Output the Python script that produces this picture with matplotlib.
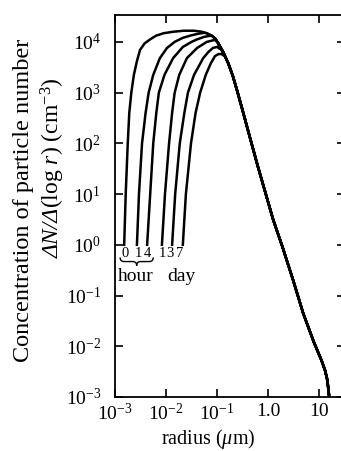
import numpy as np
import matplotlib
matplotlib.use("Agg")
import matplotlib.pyplot as plt
from matplotlib.path import Path
from matplotlib.patches import PathPatch
from matplotlib.ticker import NullLocator

plt.rcParams['font.family'] = ['Liberation Serif', 'DejaVu Serif']
plt.rcParams['mathtext.fontset'] = 'custom'
plt.rcParams['mathtext.rm'] = 'Liberation Serif'
plt.rcParams['mathtext.it'] = 'Liberation Serif:italic'
plt.rcParams['mathtext.bf'] = 'Liberation Serif:bold'

# values, as log10(radius um) and log10(dN/dlog r)
# common large-particle tail, shared by all curves
tail_logr = [-0.98, -0.88, -0.78, -0.69, -0.60, -0.49, -0.35, -0.20, -0.10,
             0.10, 0.29, 0.50, 0.69, 0.90, 1.05, 1.12, 1.16, 1.185, 1.20, 1.21]
tail_logn = [3.98, 3.80, 3.58, 3.33, 3.02, 2.62, 2.10, 1.55, 1.20,
             0.50, -0.06, -0.72, -1.35, -1.92, -2.28, -2.48, -2.65, -2.85, -3.0, -3.2]

# rising part of each curve (0 h, 1 h, 4 h, 1 d, 3 d, 7 d)
rise_logr = [
    [-2.82, -2.79, -2.75, -2.72, -2.68, -2.63, -2.57, -2.51, -2.42, -2.31,
     -2.20, -2.05, -1.86, -1.65, -1.45, -1.30, -1.20, -1.10, -1.03],
    [-2.57, -2.53, -2.47, -2.40, -2.34, -2.25, -2.12, -1.98, -1.83, -1.67,
     -1.50, -1.37, -1.24, -1.20, -1.10, -1.03],
    [-2.37, -2.31, -2.25, -2.19, -2.14, -2.03, -1.86, -1.67, -1.50, -1.39,
     -1.25, -1.14, -1.10, -1.03],
    [-2.08, -2.02, -1.94, -1.88, -1.83, -1.74, -1.59, -1.39, -1.20, -1.04],
    [-1.88, -1.82, -1.73, -1.64, -1.57, -1.45, -1.27, -1.17, -1.08, -1.00,
     -0.94],
    [-1.67, -1.61, -1.51, -1.42, -1.33, -1.22, -1.12, -1.04, -0.97, -0.91,
     -0.85],
]
rise_logn = [
    [0.0, 1.0, 2.0, 2.6, 3.0, 3.35, 3.62, 3.84, 3.97, 4.05,
     4.12, 4.17, 4.20, 4.22, 4.22, 4.20, 4.17, 4.12, 4.06],
    [0.0, 1.0, 2.0, 2.6, 3.0, 3.35, 3.68, 3.88, 4.00, 4.08,
     4.13, 4.16, 4.18, 4.17, 4.12, 4.06],
    [0.0, 1.0, 2.0, 2.6, 3.0, 3.35, 3.68, 3.90, 4.00, 4.05,
     4.10, 4.12, 4.12, 4.06],
    [0.0, 1.0, 2.0, 2.6, 3.0, 3.35, 3.68, 3.88, 4.00, 4.04],
    [0.0, 1.0, 2.0, 2.6, 3.0, 3.35, 3.68, 3.80, 3.88, 3.90,
     3.86],
    [0.0, 1.0, 2.0, 2.6, 3.0, 3.35, 3.58, 3.72, 3.76, 3.76,
     3.72],
]
curve_labels = ['0', '1', '4', '1', '3', '7']
label_logr = [-2.80, -2.55, -2.37, -2.08, -1.92, -1.73]

xticks = [1e-3, 1e-2, 1e-1, 1.0, 10.0]
xtick_labels = [r'$10^{-3}$', r'$10^{-2}$', r'$10^{-1}$', '1.0', '10']
yticks = [1e-3, 1e-2, 1e-1, 1e0, 1e1, 1e2, 1e3, 1e4]
ytick_labels = [r'$10^{-3}$', r'$10^{-2}$', r'$10^{-1}$', r'$10^{0}$',
                r'$10^{1}$', r'$10^{2}$', r'$10^{3}$', r'$10^{4}$']

fig = plt.figure(figsize=(3.41, 4.51), dpi=100)
ax = fig.add_axes([115/341, 54/451, 230/341, 382/451])

for lr, ln in zip(rise_logr, rise_logn):
    r = 10.0 ** np.array(lr + tail_logr)
    n = 10.0 ** np.array(ln + tail_logn)
    ax.plot(r, n, color='black', lw=1.8, solid_joinstyle='round')

ax.set_xscale('log')
ax.set_yscale('log')
ax.set_xlim(1e-3, 10 ** 1.51)
ax.set_ylim(1e-3, 10 ** 4.53)
ax.set_xticks(xticks)
ax.set_xticklabels(xtick_labels)
ax.set_yticks(yticks)
ax.set_yticklabels(ytick_labels)
ax.xaxis.set_minor_locator(NullLocator())
ax.yaxis.set_minor_locator(NullLocator())
ax.tick_params(direction='in', top=True, right=True, length=6, width=1.2,
               labelsize=14)
ax.tick_params(axis='y', pad=10)
ax.tick_params(axis='x', pad=4)
for s in ax.spines.values():
    s.set_linewidth(1.3)

# small labels under the curves
for lab, lr in zip(curve_labels, label_logr):
    ax.text(10 ** lr, 10 ** -0.17, lab, fontsize=10.5, ha='center', va='center')
ax.text(10 ** -2.59, 10 ** -0.62, 'hour', fontsize=14, ha='center', va='center')
ax.text(10 ** -1.70, 10 ** -0.62, 'day', fontsize=14, ha='center', va='center')

# brace under the hour labels
bx0, bx1 = -2.90, -2.25
bxm = (bx0 + bx1) / 2
yt, ym, yb = 10 ** -0.25, 10 ** -0.33, 10 ** -0.41
verts = [(10 ** bx0, yt), (10 ** bx0, ym), (10 ** (bx0 + 0.08), ym),
         (10 ** (bxm - 0.08), ym), (10 ** bxm, ym), (10 ** bxm, yb),
         (10 ** bxm, ym), (10 ** (bxm + 0.08), ym),
         (10 ** (bx1 - 0.08), ym), (10 ** bx1, ym), (10 ** bx1, yt)]
codes = [Path.MOVETO, Path.CURVE3, Path.CURVE3, Path.LINETO, Path.CURVE3,
         Path.CURVE3, Path.CURVE3, Path.CURVE3, Path.LINETO, Path.CURVE3,
         Path.CURVE3]
ax.add_patch(PathPatch(Path(verts, codes), fill=False, lw=1.0, color='black'))

fig.text(208/341, 1 - 439/451, r'radius ($\mu$m)', fontsize=14.5,
         ha='center', va='center')
fig.text(24/341, 1 - 200/451, 'Concentration of particle number', fontsize=17.5,
         rotation=90, ha='center', va='center')
# inner label in two pieces so the delta part is italic
fig.text(53/341, 1 - 208/451, 'ΔN/Δ', fontsize=17, style='italic',
         rotation=90, rotation_mode='anchor', ha='right', va='center')
fig.text(53/341, 1 - 208/451, r'(log $r$) (cm$^{-3}$)', fontsize=17,
         rotation=90, rotation_mode='anchor', ha='left', va='center')

fig.savefig('out.png', dpi=100)
